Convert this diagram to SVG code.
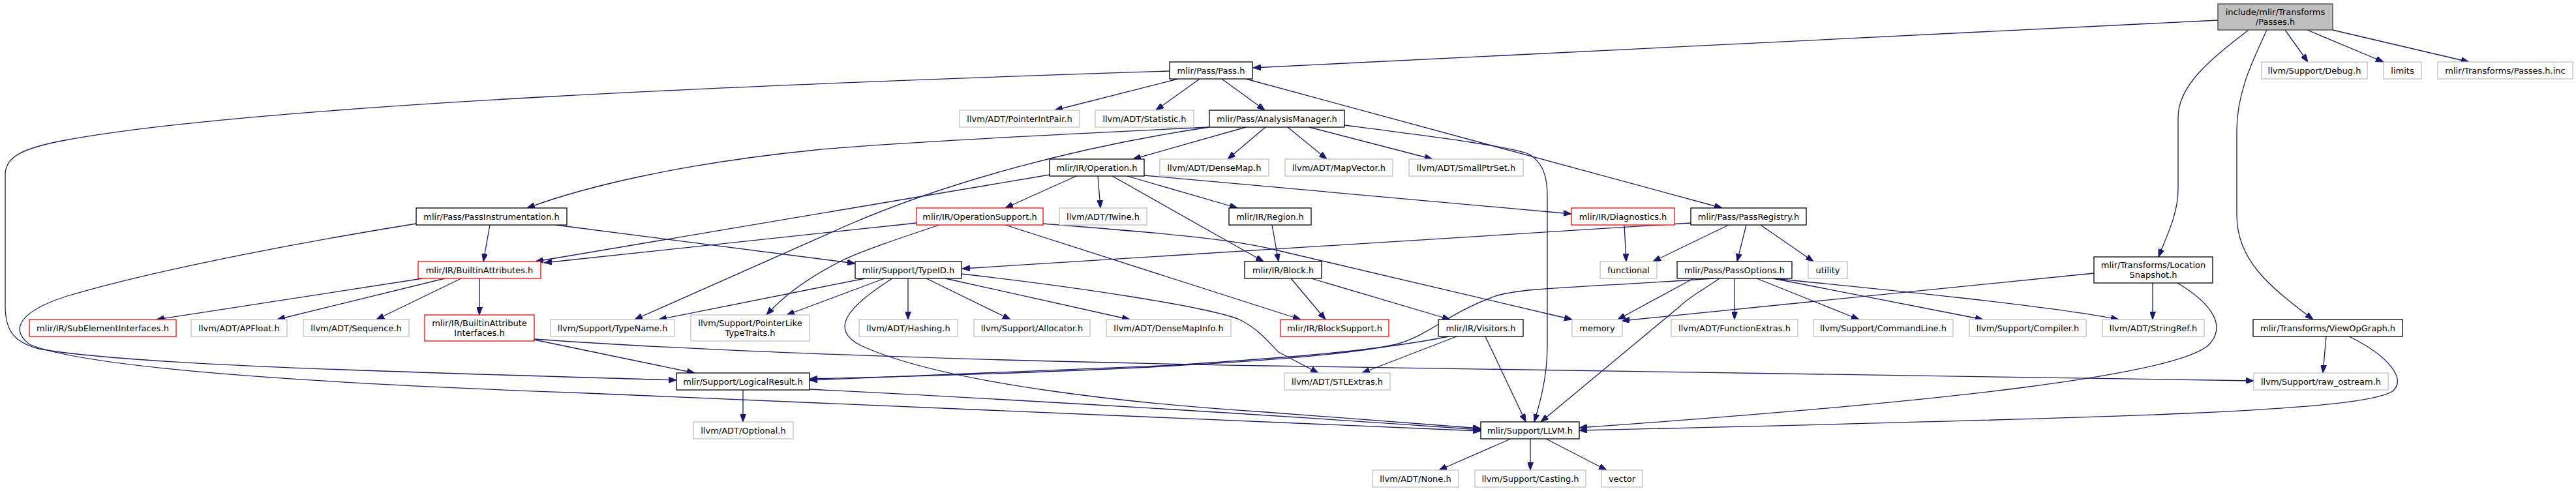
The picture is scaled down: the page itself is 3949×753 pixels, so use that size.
<svg xmlns="http://www.w3.org/2000/svg" width="3949" height="753" viewBox="0 0 3949 753">
<style>
rect{fill:#fff;stroke:#000;stroke-width:1.3}
.g rect{stroke:#bfbfbf}
.r rect{stroke:#ff0000}
.m rect{fill:#bfbfbf;stroke:#404040}
text{font-family:"DejaVu Sans",sans-serif;font-size:13px;text-anchor:middle;fill:#000}
#edges path{fill:none;stroke:#191970;stroke-width:1.3;marker-end:url(#ah)}
</style>
<defs>
<marker id="ah" viewBox="0 0 12 9" refX="12" refY="4.5" markerWidth="12" markerHeight="9" markerUnits="userSpaceOnUse" orient="auto"><path d="M0,0 L12,4.5 L0,9 z" fill="#191970" stroke="#191970" stroke-width="1"/></marker>
</defs>
<rect x="0" y="0" width="3949" height="753" style="fill:#fff;stroke:none"/>
<g id="edges">
<path d="M3400,31 L1921,104"/>
<path d="M3503,46 L3538,95"/>
<path d="M3537,46 L3654,95"/>
<path d="M3576,46 L3785,95"/>
<path d="M3447,46 C3390,90 3339,130 3339,180 L3339,290 C3339,330 3320,365 3309,394"/>
<path d="M3475,46 C3455,90 3429,140 3429,200 L3429,330 C3429,400 3480,440 3546,490"/>
<path d="M1806,121 L1617,169"/>
<path d="M1839,121 L1772,169"/>
<path d="M1873,121 L1939,169"/>
<path d="M1910,121 L2640,319"/>
<path d="M1793,109 C1200,128 400,160 100,215 C30,228 8,242 8,268 L8,470 C8,505 20,525 60,535 C200,560 600,570 1037,583"/>
<path d="M1910,195 L1737,244"/>
<path d="M1940,195 L1882,244"/>
<path d="M1974,195 L2034,244"/>
<path d="M2007,195 L2196,244"/>
<path d="M2061,192 C2200,210 2320,225 2345,237 C2365,250 2372,270 2372,300 L2372,530 C2372,580 2360,620 2352,647"/>
<path d="M1854,195 C1600,207 1350,220 1250,230 C1050,250 900,285 808,319"/>
<path d="M1854,195 C1650,225 1450,280 1300,345 L973,490"/>
<path d="M1650,270 L1541,319"/>
<path d="M1683,270 L1687,319"/>
<path d="M1728,270 L1897,319"/>
<path d="M1754,269 L2409,328"/>
<path d="M1705,270 L1937,401"/>
<path d="M1609,268 L821,401"/>
<path d="M1950,345 L1960,401"/>
<path d="M2490,345 L2493,401"/>
<path d="M2592,342 L1475,412"/>
<path d="M2650,345 L2534,401"/>
<path d="M2677,345 L2663,401"/>
<path d="M2699,345 L2780,401"/>
<path d="M751,345 L741,401"/>
<path d="M852,345 L1311,404"/>
<path d="M638,343 C500,365 250,410 100,455 C30,478 15,505 45,528 C120,560 400,585 900,603 C1500,625 1900,645 2270,661"/>
<path d="M1405,342 L834,403"/>
<path d="M1440,345 C1380,365 1320,385 1290,400 C1240,425 1200,455 1175,483"/>
<path d="M1541,345 L1994,490"/>
<path d="M1599,343 C1750,355 1880,365 1950,382 L2410,490"/>
<path d="M648,427 L240,490"/>
<path d="M682,427 L425,490"/>
<path d="M707,427 L577,490"/>
<path d="M735,427 L735,483"/>
<path d="M819,521 L1065,572"/>
<path d="M819,520 C1100,540 1500,553 1940,561 L3455,584"/>
<path d="M1326,427 L1010,490"/>
<path d="M1356,427 L1206,483"/>
<path d="M1392,427 L1392,490"/>
<path d="M1420,427 L1549,490"/>
<path d="M1449,427 L1732,490"/>
<path d="M1474,420 C1650,440 1850,470 1900,490 C1930,505 1945,525 1960,540 L2021,572"/>
<path d="M1368,427 C1300,470 1270,505 1320,530 C1450,590 1750,620 1940,632 L2270,657"/>
<path d="M1979,427 L2032,490"/>
<path d="M2010,427 L2223,490"/>
<path d="M2233,516 L2088,572"/>
<path d="M2277,516 L2339,647"/>
<path d="M2221,516 C2100,540 1950,550 1800,560 L1241,583"/>
<path d="M2659,427 L2659,490"/>
<path d="M2693,427 L2850,490"/>
<path d="M2718,427 L3040,490"/>
<path d="M2718,427 C2900,445 3150,470 3248,490"/>
<path d="M2596,427 L2480,490"/>
<path d="M2636,427 C2610,445 2590,455 2575,470 L2362,647"/>
<path d="M2627,427 C2450,440 2330,440 2290,455 C2220,480 2190,515 2140,528 C2000,560 1500,575 1241,581"/>
<path d="M3300,434 L3300,490"/>
<path d="M3210,419 L2486,492"/>
<path d="M3338,434 C3390,465 3415,500 3385,530 C3330,575 3000,615 2421,656"/>
<path d="M3566,516 L3561,572"/>
<path d="M3601,516 C3660,545 3690,580 3668,600 C3620,630 3300,640 2421,660"/>
<path d="M1139,598 L1139,647"/>
<path d="M1241,597 C1600,615 2000,640 2270,659"/>
<path d="M2316,673 L2206,721"/>
<path d="M2346,673 L2346,721"/>
<path d="M2370,673 L2463,721"/>
</g>
<g id="n_main" class="m"><rect x="3400" y="6" width="176" height="40"/><text x="3488" y="22.5">include/mlir/Transforms</text><text x="3488" y="37.5">/Passes.h</text></g>
<g id="n_pass"><rect x="1793" y="95" width="127" height="26"/><text x="1856.5" y="112.5">mlir/Pass/Pass.h</text></g>
<g id="n_debug" class="g"><rect x="3467" y="95" width="162" height="26"/><text x="3548" y="112.5">llvm/Support/Debug.h</text></g>
<g id="n_limits" class="g"><rect x="3654" y="95" width="58" height="26"/><text x="3683" y="112.5">limits</text></g>
<g id="n_passesinc" class="g"><rect x="3737" y="95" width="207" height="26"/><text x="3840.5" y="112.5">mlir/Transforms/Passes.h.inc</text></g>
<g id="n_pointerintpair" class="g"><rect x="1471" y="169" width="184" height="26"/><text x="1563" y="186.5">llvm/ADT/PointerIntPair.h</text></g>
<g id="n_statistic" class="g"><rect x="1679" y="169" width="151" height="26"/><text x="1754.5" y="186.5">llvm/ADT/Statistic.h</text></g>
<g id="n_am"><rect x="1854" y="169" width="207" height="26"/><text x="1957.5" y="186.5">mlir/Pass/AnalysisManager.h</text></g>
<g id="n_operation"><rect x="1609" y="244" width="145" height="26"/><text x="1681.5" y="261.5">mlir/IR/Operation.h</text></g>
<g id="n_densemap" class="g"><rect x="1778" y="244" width="167" height="26"/><text x="1861.5" y="261.5">llvm/ADT/DenseMap.h</text></g>
<g id="n_mapvector" class="g"><rect x="1970" y="244" width="165" height="26"/><text x="2052.5" y="261.5">llvm/ADT/MapVector.h</text></g>
<g id="n_smallptrset" class="g"><rect x="2160" y="244" width="175" height="26"/><text x="2247.5" y="261.5">llvm/ADT/SmallPtrSet.h</text></g>
<g id="n_passinstr"><rect x="638" y="319" width="231" height="26"/><text x="753.5" y="336.5">mlir/Pass/PassInstrumentation.h</text></g>
<g id="n_opsupport" class="r"><rect x="1405" y="319" width="194" height="26"/><text x="1502" y="336.5">mlir/IR/OperationSupport.h</text></g>
<g id="n_twine" class="g"><rect x="1624" y="319" width="134" height="26"/><text x="1691" y="336.5">llvm/ADT/Twine.h</text></g>
<g id="n_region"><rect x="1884" y="319" width="126" height="26"/><text x="1947" y="336.5">mlir/IR/Region.h</text></g>
<g id="n_diagnostics" class="r"><rect x="2409" y="319" width="158" height="26"/><text x="2488" y="336.5">mlir/IR/Diagnostics.h</text></g>
<g id="n_passregistry"><rect x="2592" y="319" width="177" height="26"/><text x="2680.5" y="336.5">mlir/Pass/PassRegistry.h</text></g>
<g id="n_builtinattrs" class="r"><rect x="641" y="401" width="188" height="26"/><text x="735" y="418.5">mlir/IR/BuiltinAttributes.h</text></g>
<g id="n_typeid"><rect x="1311" y="401" width="163" height="26"/><text x="1392.5" y="418.5">mlir/Support/TypeID.h</text></g>
<g id="n_block"><rect x="1908" y="401" width="118" height="26"/><text x="1967" y="418.5">mlir/IR/Block.h</text></g>
<g id="n_functional" class="g"><rect x="2453" y="401" width="87" height="26"/><text x="2496.5" y="418.5">functional</text></g>
<g id="n_passoptions"><rect x="2571" y="401" width="176" height="26"/><text x="2659" y="418.5">mlir/Pass/PassOptions.h</text></g>
<g id="n_utility" class="g"><rect x="2772" y="401" width="60" height="26"/><text x="2802" y="418.5">utility</text></g>
<g id="n_locsnap"><rect x="3210" y="394" width="182" height="40"/><text x="3301" y="410.5">mlir/Transforms/Location</text><text x="3301" y="425.5">Snapshot.h</text></g>
<g id="n_subelem" class="r"><rect x="45" y="490" width="225" height="26"/><text x="157.5" y="507.5">mlir/IR/SubElementInterfaces.h</text></g>
<g id="n_apfloat" class="g"><rect x="293" y="490" width="147" height="26"/><text x="366.5" y="507.5">llvm/ADT/APFloat.h</text></g>
<g id="n_sequence" class="g"><rect x="465" y="490" width="162" height="26"/><text x="546" y="507.5">llvm/ADT/Sequence.h</text></g>
<g id="n_bai" class="r"><rect x="651" y="483" width="168" height="40"/><text x="735" y="499.5">mlir/IR/BuiltinAttribute</text><text x="735" y="514.5">Interfaces.h</text></g>
<g id="n_typename" class="g"><rect x="844" y="490" width="190" height="26"/><text x="939" y="507.5">llvm/Support/TypeName.h</text></g>
<g id="n_pointerlike" class="g"><rect x="1059" y="483" width="182" height="40"/><text x="1150" y="499.5">llvm/Support/PointerLike</text><text x="1150" y="514.5">TypeTraits.h</text></g>
<g id="n_hashing" class="g"><rect x="1317" y="490" width="151" height="26"/><text x="1392.5" y="507.5">llvm/ADT/Hashing.h</text></g>
<g id="n_allocator" class="g"><rect x="1493" y="490" width="178" height="26"/><text x="1582" y="507.5">llvm/Support/Allocator.h</text></g>
<g id="n_densemapinfo" class="g"><rect x="1696" y="490" width="191" height="26"/><text x="1791.5" y="507.5">llvm/ADT/DenseMapInfo.h</text></g>
<g id="n_blocksupport" class="r"><rect x="1963" y="490" width="166" height="26"/><text x="2046" y="507.5">mlir/IR/BlockSupport.h</text></g>
<g id="n_visitors"><rect x="2205" y="490" width="130" height="26"/><text x="2270" y="507.5">mlir/IR/Visitors.h</text></g>
<g id="n_memory" class="g"><rect x="2410" y="490" width="77" height="26"/><text x="2448.5" y="507.5">memory</text></g>
<g id="n_functionextras" class="g"><rect x="2562" y="490" width="194" height="26"/><text x="2659" y="507.5">llvm/ADT/FunctionExtras.h</text></g>
<g id="n_commandline" class="g"><rect x="2780" y="490" width="214" height="26"/><text x="2887" y="507.5">llvm/Support/CommandLine.h</text></g>
<g id="n_compiler" class="g"><rect x="3019" y="490" width="179" height="26"/><text x="3108.5" y="507.5">llvm/Support/Compiler.h</text></g>
<g id="n_stringref" class="g"><rect x="3223" y="490" width="156" height="26"/><text x="3301" y="507.5">llvm/ADT/StringRef.h</text></g>
<g id="n_viewopgraph"><rect x="3454" y="490" width="229" height="26"/><text x="3568.5" y="507.5">mlir/Transforms/ViewOpGraph.h</text></g>
<g id="n_logicalresult"><rect x="1037" y="572" width="204" height="26"/><text x="1139" y="589.5">mlir/Support/LogicalResult.h</text></g>
<g id="n_stlextras" class="g"><rect x="1969" y="572" width="162" height="26"/><text x="2050" y="589.5">llvm/ADT/STLExtras.h</text></g>
<g id="n_rawostream" class="g"><rect x="3455" y="572" width="206" height="26"/><text x="3558" y="589.5">llvm/Support/raw_ostream.h</text></g>
<g id="n_optional" class="g"><rect x="1063" y="647" width="153" height="26"/><text x="1139.5" y="664.5">llvm/ADT/Optional.h</text></g>
<g id="n_llvm"><rect x="2270" y="647" width="151" height="26"/><text x="2345.5" y="664.5">mlir/Support/LLVM.h</text></g>
<g id="n_none" class="g"><rect x="2104" y="721" width="132" height="26"/><text x="2170" y="738.5">llvm/ADT/None.h</text></g>
<g id="n_casting" class="g"><rect x="2261" y="721" width="170" height="26"/><text x="2346" y="738.5">llvm/Support/Casting.h</text></g>
<g id="n_vector" class="g"><rect x="2455" y="721" width="63" height="26"/><text x="2486.5" y="738.5">vector</text></g>
</svg>
